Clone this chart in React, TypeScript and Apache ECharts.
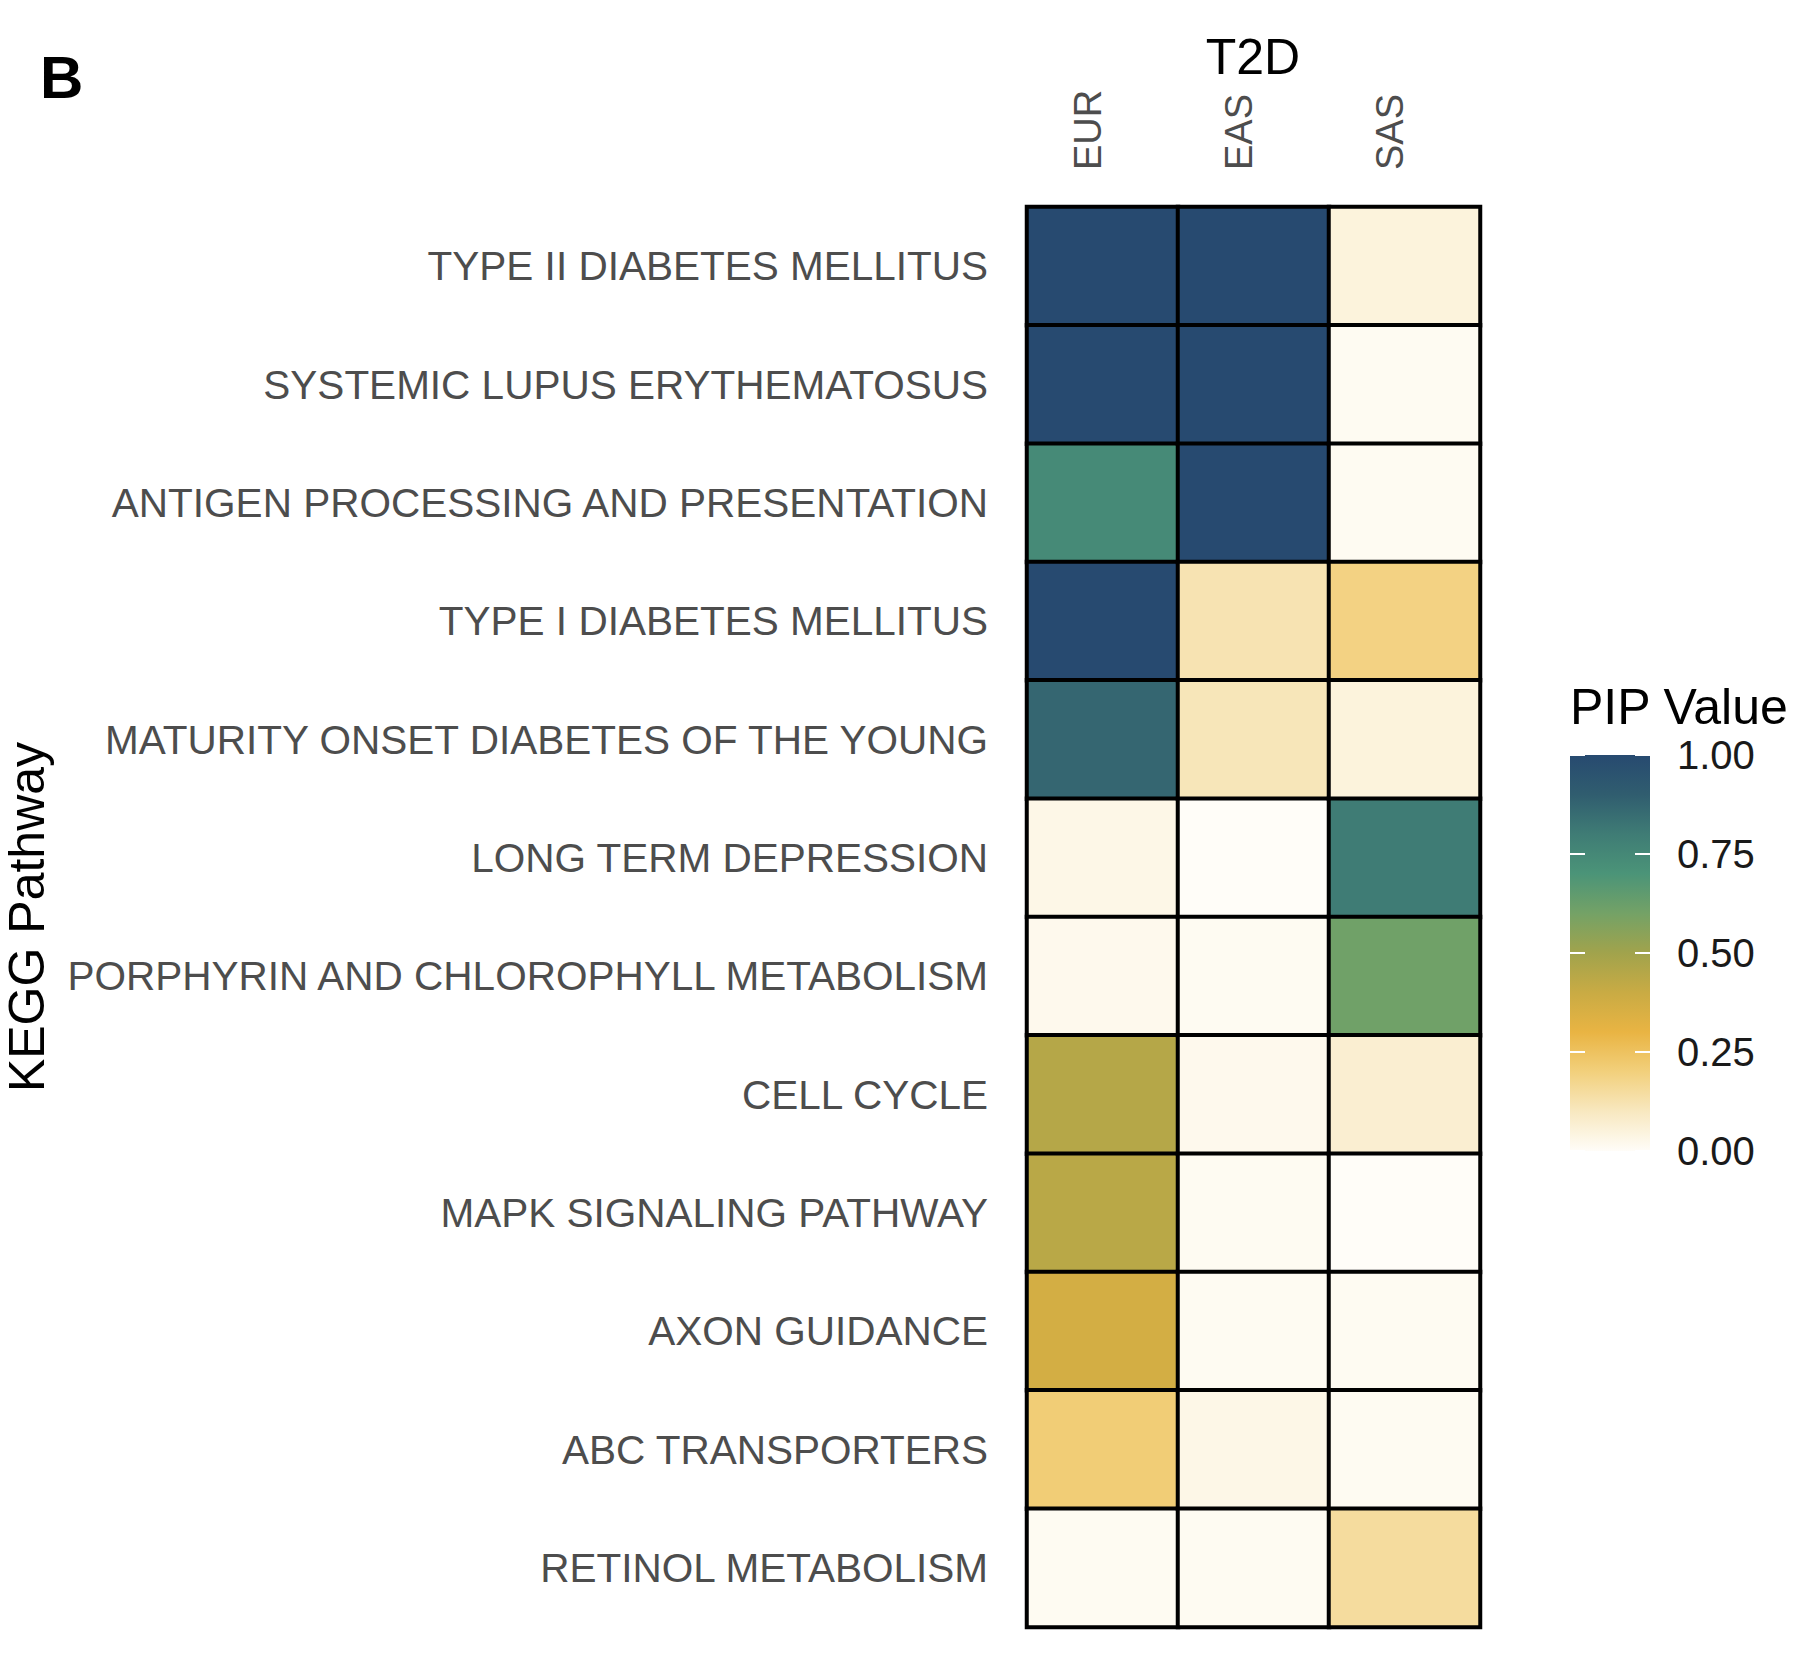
import React, { useEffect, useRef } from "react";
import * as echarts from "echarts";

// Populations (columns) and KEGG pathways (rows, top to bottom)
const populations = ["EUR", "EAS", "SAS"];
const pathways = [
  "TYPE II DIABETES MELLITUS",
  "SYSTEMIC LUPUS ERYTHEMATOSUS",
  "ANTIGEN PROCESSING AND PRESENTATION",
  "TYPE I DIABETES MELLITUS",
  "MATURITY ONSET DIABETES OF THE YOUNG",
  "LONG TERM DEPRESSION",
  "PORPHYRIN AND CHLOROPHYLL METABOLISM",
  "CELL CYCLE",
  "MAPK SIGNALING PATHWAY",
  "AXON GUIDANCE",
  "ABC TRANSPORTERS",
  "RETINOL METABOLISM",
];

// PIP values per population, in pathway order
const eurPIP = [1.0, 1.0, 0.74, 1.0, 0.87, 0.03, 0.02, 0.45, 0.44, 0.37, 0.21, 0.01];
const easPIP = [1.0, 1.0, 1.0, 0.12, 0.11, 0.0, 0.01, 0.02, 0.01, 0.01, 0.03, 0.01];
const sasPIP = [0.05, 0.01, 0.01, 0.19, 0.05, 0.8, 0.61, 0.07, 0.0, 0.01, 0.01, 0.15];

// Colour ramp, evenly spaced from PIP 0 to PIP 1
const rampColors = [
  "#fffdf8",
  "#f8e8c0",
  "#f2d07c",
  "#e9b443",
  "#c9ab44",
  "#a1a34c",
  "#74a266",
  "#4b9478",
  "#3f7c75",
  "#305d6f",
  "#274a70",
];

const legendTicks = [0, 0.25, 0.5, 0.75, 1];

const FONT = "'Liberation Sans', Arial, Helvetica, sans-serif";

export default function App() {
  const ref = useRef<HTMLDivElement>(null);

  useEffect(() => {
    if (!ref.current) return;
    const chart = echarts.init(ref.current, undefined, { renderer: "svg" });

    const columns = [eurPIP, easPIP, sasPIP];
    const cells: [number, number, number][] = [];
    columns.forEach((vals, xi) => {
      vals.forEach((v, yi) => cells.push([xi, yi, v]));
    });

    const gradient = new echarts.graphic.LinearGradient(
      0,
      1,
      0,
      0,
      rampColors.map((c, i) => ({ offset: i / (rampColors.length - 1), color: c }))
    );

    const option: any = {
      animation: false,
      backgroundColor: "#ffffff",
      textStyle: { fontFamily: FONT },
      grid: [
        { left: 1027, top: 207, width: 453, height: 1420 },
        { left: 1570, top: 755, width: 80, height: 396 },
      ],
      xAxis: [
        {
          type: "category",
          gridIndex: 0,
          position: "top",
          data: populations,
          axisLine: { show: false },
          axisTick: { show: false },
          splitLine: { show: false },
          axisLabel: {
            rotate: -90,
            margin: 37,
            fontSize: 38,
            lineHeight: 30,
            color: "#4d4d4d",
            fontFamily: FONT,
            verticalAlign: "bottom",
          },
        },
        {
          type: "category",
          gridIndex: 1,
          data: ["PIP"],
          show: false,
        },
      ],
      yAxis: [
        {
          type: "category",
          gridIndex: 0,
          inverse: true,
          data: pathways,
          axisLine: { show: false },
          axisTick: { show: false },
          splitLine: { show: false },
          axisLabel: {
            margin: 39,
            fontSize: 40.5,
            color: "#4d4d4d",
            fontFamily: FONT,
          },
          name: "KEGG Pathway",
          nameLocation: "middle",
          nameRotate: 90,
          nameGap: 975,
          nameTextStyle: { fontSize: 50, color: "#000000", fontFamily: FONT },
        },
        {
          type: "value",
          gridIndex: 1,
          position: "right",
          min: 0,
          max: 1,
          interval: 0.25,
          z: 10,
          axisLine: { show: false },
          splitLine: { show: false },
          axisTick: {
            show: true,
            inside: true,
            length: 15,
            lineStyle: { color: "#ffffff", width: 2 },
          },
          axisLabel: {
            margin: 27,
            fontSize: 40,
            color: "#1a1a1a",
            fontFamily: FONT,
            formatter: (v: number) => v.toFixed(2),
          },
        },
        {
          type: "value",
          gridIndex: 1,
          position: "left",
          min: 0,
          max: 1,
          interval: 0.25,
          z: 10,
          axisLine: { show: false },
          splitLine: { show: false },
          axisLabel: { show: false },
          axisTick: {
            show: true,
            inside: true,
            length: 15,
            lineStyle: { color: "#ffffff", width: 2 },
          },
        },
      ],
      visualMap: {
        type: "continuous",
        show: false,
        min: 0,
        max: 1,
        seriesIndex: 0,
        inRange: { color: rampColors },
      },
      series: [
        {
          type: "heatmap",
          xAxisIndex: 0,
          yAxisIndex: 0,
          data: cells,
          itemStyle: { borderColor: "#000000", borderWidth: 4 },
          emphasis: { disabled: true },
        },
        {
          type: "bar",
          xAxisIndex: 1,
          yAxisIndex: 1,
          data: [legendTicks[legendTicks.length - 1]],
          barWidth: "100%",
          itemStyle: { color: gradient },
          silent: true,
        },
      ],
      graphic: [
        {
          type: "text",
          left: 40,
          top: 47,
          style: {
            text: "B",
            fontSize: 60,
            fontWeight: "bold",
            fill: "#000000",
            fontFamily: FONT,
          },
        },
        {
          type: "text",
          x: 1253,
          y: 57,
          style: {
            text: "T2D",
            fontSize: 50,
            fill: "#000000",
            align: "center",
            verticalAlign: "middle",
            fontFamily: FONT,
          },
        },
        {
          type: "text",
          x: 1570,
          y: 707,
          style: {
            text: "PIP Value",
            fontSize: 50,
            fill: "#000000",
            align: "left",
            verticalAlign: "middle",
            fontFamily: FONT,
          },
        },
      ],
    };

    chart.setOption(option);
    return () => chart.dispose();
  }, []);

  return (
    <div
      ref={ref}
      style={{ position: "absolute", left: 0, top: 0, width: 1818, height: 1664 }}
    />
  );
}
